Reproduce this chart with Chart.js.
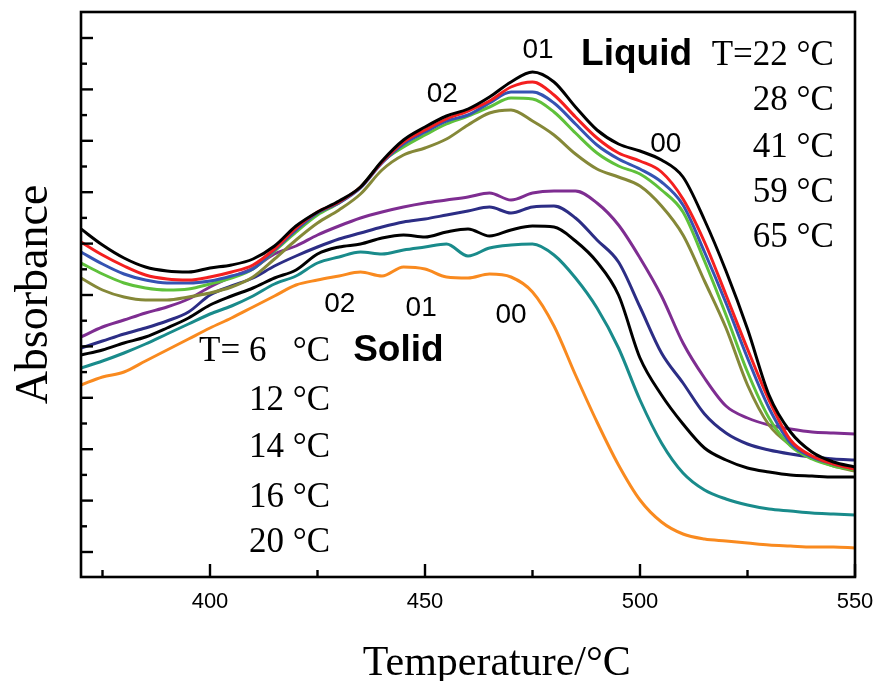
<!DOCTYPE html>
<html><head><meta charset="utf-8">
<script src="https://cdn.jsdelivr.net/npm/chart.js@4"></script>
<style>html,body{margin:0;padding:0;background:#fff;}canvas{display:block;}</style>
</head><body>
<canvas id="c" width="875" height="681"></canvas>
<script>
// Temperature axis (°C)
const temperatures = [370,375,380,385,390,395,400,405,410,415,420,425,430,435,440,445,450,455,460,465,470,475,480,485,490,495,500,505,510,515,520,525,530,535,540,545,550];

// Liquid phase absorbance (arbitrary units)
const liquid22 = [323,307,294,285,281,280,284,287,293,306,326,340,351,365,391,412,425,436,443,455,470,480,470,445,422,408,401,392,375,332,281,223,157,120,100,90,85];
const liquid28 = [310,297,286,277,273,272,275,280,287,303,324,340,350,365,390,410,422,433,441,451,465,470,457,435,414,399,391,380,353,310,257,203,152,112,96,88,83];
const liquid41 = [300,288,278,272,269,269,271,276,283,302,322,339,349,364,389,408,420,431,437,449,460,460,449,428,407,393,383,370,347,300,249,194,144,109,95,88,83];
const liquid59 = [289,278,269,264,262,263,268,274,283,301,320,337,349,365,390,405,417,428,436,445,454,453,440,419,399,386,378,362,340,291,237,180,134,106,93,86,82];
const liquid65 = [274,262,255,252,252,255,259,265,275,293,312,329,342,358,382,397,404,413,427,439,442,431,417,398,383,375,366,346,317,271,224,167,127,107,94,86,81];

// Solid phase absorbance (arbitrary units)
const solid6  = [215,225,232,239,245,253,265,275,284,298,306,317,326,334,340,345,349,352,355,359,352,359,361,361,349,327,294,256,209,174,146,134,127,123,120,119,118];
const solid12 = [204,211,218,224,231,240,257,266,274,286,296,305,313,319,325,330,333,337,341,345,339,345,346,334,312,290,245,199,169,138,119,108,102,98,95,93,92];
const solid14 = [197,202,209,215,224,234,247,256,264,274,282,298,305,308,314,317,315,320,323,316,322,326,325,311,290,257,194,157,128,104,92,84,80,77,76,75,75];
const solid16 = [184,191,199,208,218,228,238,246,256,268,276,289,295,300,298,302,305,308,296,304,307,308,297,274,244,204,152,109,79,62,53,47,43,41,39,38,37];
const solid20 = [167,175,180,191,202,213,224,234,245,256,267,272,276,280,276,285,283,275,274,278,275,260,226,177,130,87,52,30,18,13,11,9,7,6,5,5,4];

// Tick labels and text
const xTickLabels = ['400','450','500','550'];
const liquidLabels = ['T=22 °C','28 °C','41 °C','59 °C','65 °C'];
const solidLabels = ['T= 6   °C','12 °C','14 °C','16 °C','20 °C'];
const bandLabels = ['02','01','00'];

const series = [
  {label:'Liquid 22 °C', data: liquid22, color:'#000000'},
  {label:'Liquid 28 °C', data: liquid28, color:'#f41f1f'},
  {label:'Liquid 41 °C', data: liquid41, color:'#3553b3'},
  {label:'Liquid 59 °C', data: liquid59, color:'#5fc13b'},
  {label:'Liquid 65 °C', data: liquid65, color:'#858838'},
  {label:'Solid 6 °C',  data: solid6,  color:'#7e2d91'},
  {label:'Solid 12 °C', data: solid12, color:'#2c2d85'},
  {label:'Solid 14 °C', data: solid14, color:'#000000'},
  {label:'Solid 16 °C', data: solid16, color:'#198b8b'},
  {label:'Solid 20 °C', data: solid20, color:'#f98a1f'}
];

const SERIF = '"Liberation Serif","Times New Roman",serif';
const SANS = '"Liberation Sans",Arial,sans-serif';

const frame = {
  id: 'frame',
  beforeDraw(chart) {
    const c = chart.ctx;
    c.save(); c.fillStyle = '#fff'; c.fillRect(0,0,chart.width,chart.height); c.restore();
  },
  afterDatasetsDraw(chart) {
    const c = chart.ctx, a = chart.chartArea, x = chart.scales.x, y = chart.scales.y;
    c.save();
    c.strokeStyle = '#000'; c.lineWidth = 2.6; c.lineCap = 'butt';
    c.strokeRect(a.left, a.top, a.right - a.left, a.bottom - a.top);
    // x ticks (inward)
    c.lineWidth = 2.4;
    for (let v = 375; v <= 550; v += 25) {
      const p = x.getPixelForValue(v), major = v % 50 === 0;
      c.beginPath(); c.moveTo(p, a.bottom); c.lineTo(p, a.bottom - (major ? 13 : 7)); c.stroke();
    }
    // y ticks (inward)
    const step = 25.7;
    for (let k = 0; k <= 20; k++) {
      const p = y.getPixelForValue(k * step), major = k % 2 === 0;
      c.beginPath(); c.moveTo(a.left, p); c.lineTo(a.left + (major ? 12 : 6), p); c.stroke();
    }
    // x tick labels
    c.fillStyle = '#000';
    c.font = '22px ' + SANS; c.textAlign = 'center'; c.textBaseline = 'alphabetic';
    xTickLabels.forEach(t => c.fillText(t, x.getPixelForValue(+t), a.bottom + 31));
    // axis titles
    c.font = '42px ' + SERIF;
    c.fillText('Temperature/°C', x.getPixelForValue(466.7), 675);
    c.save();
    c.translate(35, (a.top + a.bottom) / 2);
    c.rotate(-Math.PI / 2);
    c.font = '46px ' + SERIF; c.textBaseline = 'middle';
    c.fillText('Absorbance', 0, 0);
    c.restore();
    // Liquid annotations
    c.font = '35px ' + SERIF; c.textAlign = 'right';
    const liqBase = [487, 442, 395, 350, 305];
    liquidLabels.forEach((t, i) => c.fillText(t, x.getPixelForValue(545.1), y.getPixelForValue(liqBase[i])));
    c.font = 'bold 37px ' + SANS; c.textAlign = 'right';
    c.fillText('Liquid', x.getPixelForValue(512.1), y.getPixelForValue(487));
    // Solid annotations
    c.font = '35px ' + SERIF; c.textAlign = 'right';
    const solBase = [191, 142, 95, 45, 0];
    solidLabels.forEach((t, i) => c.fillText(t, x.getPixelForValue(427.9), y.getPixelForValue(solBase[i])));
    c.font = 'bold 37px ' + SANS; c.textAlign = 'left';
    c.fillText('Solid', x.getPixelForValue(433.3), y.getPixelForValue(191));
    // vibronic band labels
    c.font = '28px ' + SANS; c.textAlign = 'center';
    const topPos = [[454.0, 450], [476.3, 494], [506.0, 400]];
    const solPos = [[430.2, 240], [449.1, 236], [470.0, 229]];
    bandLabels.forEach((t, i) => {
      c.fillText(t, x.getPixelForValue(topPos[i][0]), y.getPixelForValue(topPos[i][1]));
      c.fillText(t, x.getPixelForValue(solPos[i][0]), y.getPixelForValue(solPos[i][1]));
    });
    c.restore();
  }
};

new Chart(document.getElementById('c'), {
  type: 'line',
  data: {
    datasets: series.map(s => ({
      label: s.label,
      data: temperatures.map((t, i) => ({x: t, y: s.data[i]})),
      borderColor: s.color,
      backgroundColor: s.color,
      borderWidth: 3,
      pointRadius: 0,
      cubicInterpolationMode: 'monotone',
      fill: false
    }))
  },
  options: {
    responsive: false,
    animation: false,
    devicePixelRatio: 1,
    layout: {padding: {left: 81, right: 20, top: 12, bottom: 104}},
    plugins: {legend: {display: false}, tooltip: {enabled: false}},
    scales: {
      x: {type: 'linear', min: 370, max: 550, display: false},
      y: {type: 'linear', min: -25, max: 540, display: false}
    }
  },
  plugins: [frame]
});
</script>
</body></html>
